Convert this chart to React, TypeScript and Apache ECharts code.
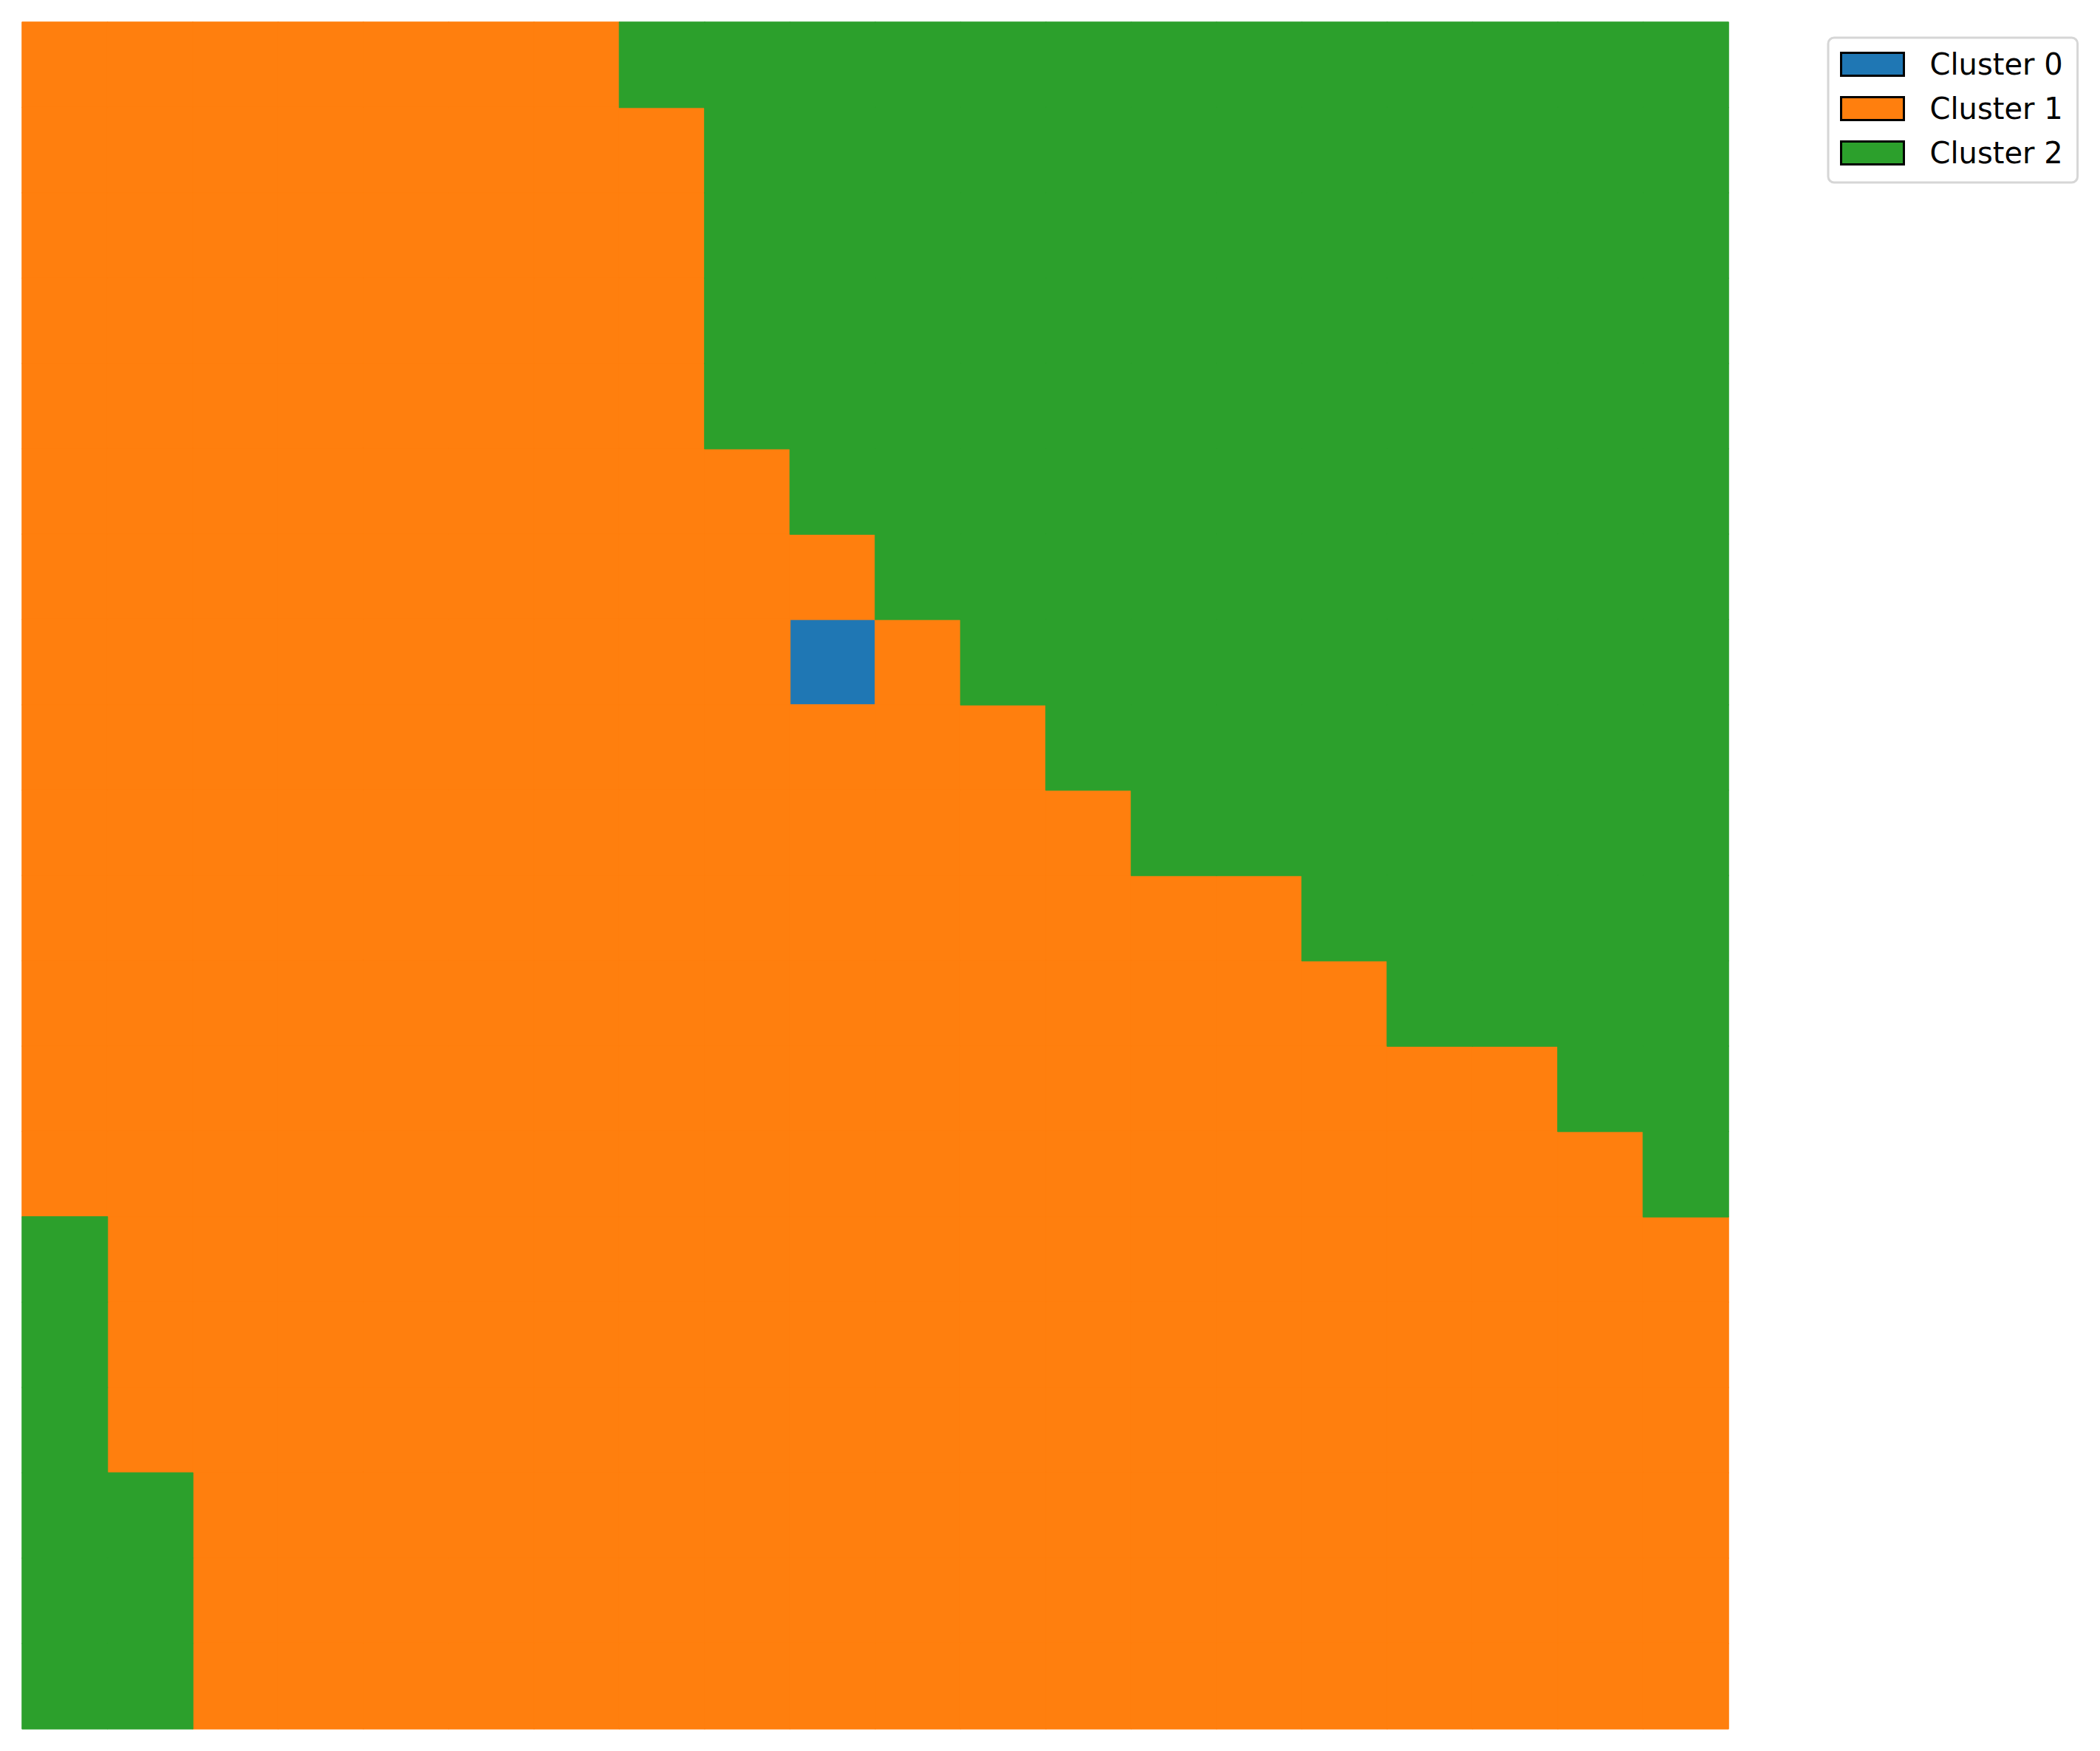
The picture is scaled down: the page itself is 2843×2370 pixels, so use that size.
import React, { useEffect, useRef } from "react";
import * as echarts from "echarts";

const clusterNames = ["Cluster 0", "Cluster 1", "Cluster 2"];
const clusterColors = ["#1f77b4", "#ff7f0e", "#2ca02c"];

// Cluster assignment per grid cell, row 0 at the top
const gridRows = [
  "11111112222222222222",
  "11111111222222222222",
  "11111111222222222222",
  "11111111222222222222",
  "11111111222222222222",
  "11111111122222222222",
  "11111111112222222222",
  "11111111101222222222",
  "11111111111122222222",
  "11111111111112222222",
  "11111111111111122222",
  "11111111111111112222",
  "11111111111111111122",
  "11111111111111111112",
  "21111111111111111111",
  "21111111111111111111",
  "21111111111111111111",
  "22111111111111111111",
  "22111111111111111111",
  "22111111111111111111",
];

const nCols = 20;
const nRows = 20;
const xCats = Array.from({ length: nCols }, (_, i) => String(i));
const yCats = Array.from({ length: nRows }, (_, i) => String(i));

export default function App() {
  const ref = useRef<HTMLDivElement>(null);
  useEffect(() => {
    if (!ref.current) return;
    const chart = echarts.init(ref.current, undefined, { renderer: "svg" });
    const series = clusterNames.map((name, k) => {
      const data: any[] = [];
      gridRows.forEach((row, r) => {
        row.split("").forEach((ch, c) => {
          if (Number(ch) === k)
            data.push({
              value: [c, r, k],
              itemStyle: { borderColor: clusterColors[k], borderWidth: 1 },
            });
        });
      });
      return {
        name,
        type: "heatmap",
        data,
        itemStyle: { color: clusterColors[k] },
        emphasis: { disabled: true },
      };
    });
    chart.setOption({
      animation: false,
      color: clusterColors,
      grid: { left: 30, top: 30, width: 2310, height: 2310 },
      xAxis: {
        type: "category",
        data: xCats,
        show: false,
      },
      yAxis: {
        type: "category",
        data: yCats,
        inverse: true,
        show: false,
      },
      visualMap: {
        type: "piecewise",
        show: false,
        dimension: 2,
        seriesIndex: [0, 1, 2],
        pieces: clusterColors.map((color, k) => ({ value: k, color })),
      },
      legend: {
        orient: "vertical",
        left: 2475,
        top: 51,
        padding: [16, 20, 20, 16],
        backgroundColor: "#ffffff",
        borderColor: "#d6d6d6",
        borderWidth: 3,
        borderRadius: 8,
        itemWidth: 85,
        itemHeight: 31,
        itemGap: 20,
        icon: "rect",
        itemStyle: { borderColor: "#000000", borderWidth: 3 },
        textStyle: {
          fontFamily: "DejaVu Sans",
          fontSize: 40,
          lineHeight: 31,
          color: "#000000",
          padding: [0, 0, 0, 30],
        },
        data: clusterNames.map((name, k) => ({
          name,
          itemStyle: { color: clusterColors[k], borderColor: "#000000", borderWidth: 3 },
        })),
      },
      series,
    });
    return () => chart.dispose();
  }, []);
  return (
    <div
      ref={ref}
      style={{ position: "absolute", left: 0, top: 0, width: 2843, height: 2370 }}
    />
  );
}
